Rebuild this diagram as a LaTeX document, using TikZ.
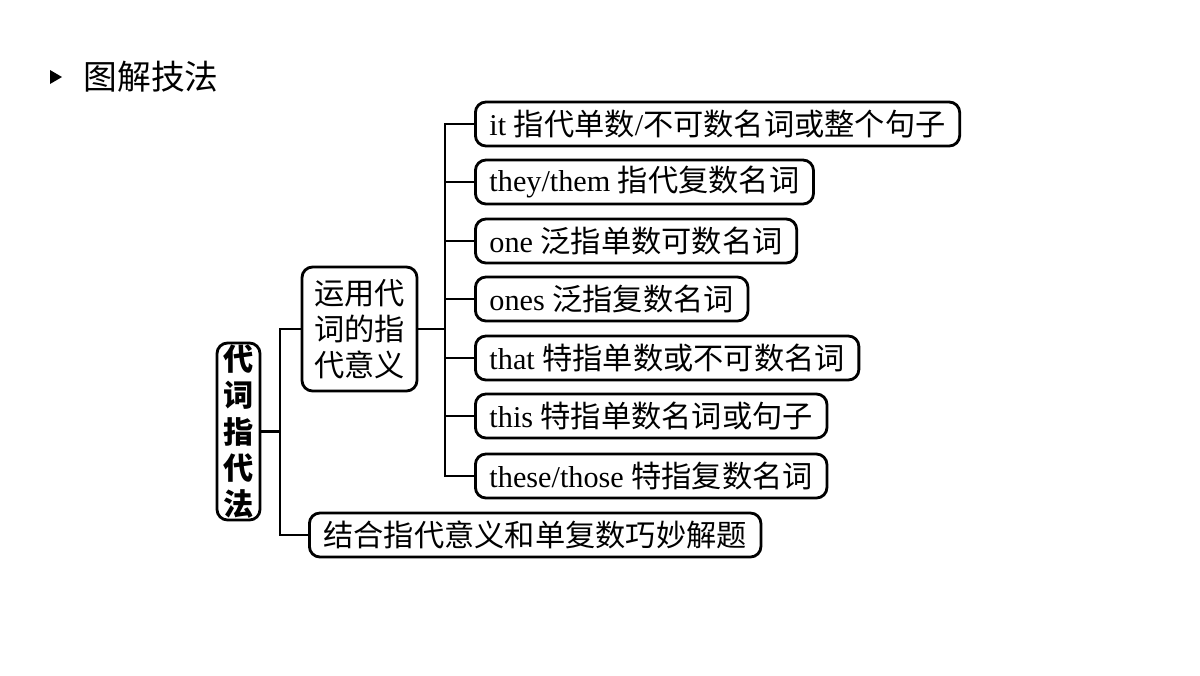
\documentclass[tikz,border=0pt]{standalone}
\usepackage{fontspec}
\setmainfont{Liberation Serif}
\newfontfamily\cjk{Noto Sans CJK SC}
\usetikzlibrary{positioning}
\begin{document}
\begin{tikzpicture}[x=0.01cm,y=-0.01cm,
  box/.style={draw,thick,rounded corners=3pt,inner xsep=4pt,inner ysep=0pt,minimum height=44*0.01cm,font=\fontsize{8.6}{10}\selectfont},
  leaf/.style={box,anchor=west},
  link/.style={thick}]
  \useasboundingbox (0,0) rectangle (1200,675);
  % title
  \fill (50,70) -- (62,77) -- (50,84) -- cycle;
  \node[anchor=west,inner sep=0pt,font=\fontsize{9.6}{11}\cjk] (title) at (83,77) {图解技法};
  % root and branches
  \node[box,font=\fontsize{8.6}{10.3}\cjk\bfseries,minimum width=43*0.01cm,minimum height=177*0.01cm,align=center,inner xsep=1pt] (root) at (238.5,431.5) {代\\词\\指\\代\\法};
  \node[box,font=\fontsize{8.6}{10.3}\cjk,minimum width=115*0.01cm,minimum height=124*0.01cm,align=center,inner xsep=2pt] (use) at (359.5,329) {运用代\\词的指\\代意义};
  \node[leaf,font=\fontsize{8.6}{10}\cjk] (comb) at (308,535) {结合指代意义和单复数巧妙解题};
  \node[leaf] (l1) at (474,124) {it {\cjk 指代单数}/{\cjk 不可数名词或整个句子}};
  \node[leaf] (l2) at (474,182) {they/them {\cjk 指代复数名词}};
  \node[leaf] (l3) at (474,241) {one {\cjk 泛指单数可数名词}};
  \node[leaf] (l4) at (474,299) {ones {\cjk 泛指复数名词}};
  \node[leaf] (l5) at (474,358) {that {\cjk 特指单数或不可数名词}};
  \node[leaf] (l6) at (474,416) {this {\cjk 特指单数名词或句子}};
  \node[leaf] (l7) at (474,476) {these/those {\cjk 特指复数名词}};
  % connectors
  \coordinate (j1) at (280,431.5);
  \coordinate (j2) at (445,329);
  \draw[link] (root.east) -- (j1);
  \draw[link] (j1) |- (use.west);
  \draw[link] (j1) |- (comb.west);
  \draw[link] (use.east) -- (j2);
  \foreach \n in {l1,l2,l3,l4,l5,l6,l7}
    \draw[link] (j2) |- (\n.west);
\end{tikzpicture}
\end{document}
